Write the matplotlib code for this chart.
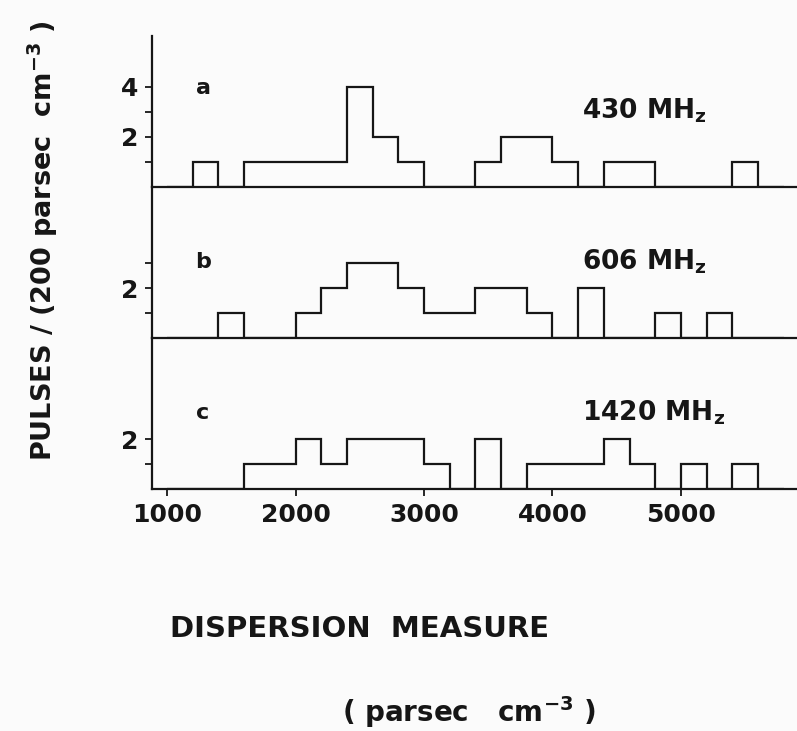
import numpy as np
import matplotlib.pyplot as plt

INK = "#161616"
PAPER = "#fbfbfb"

# bin edges (DM, parsec cm^-3) and pulse counts per 200-unit bin
edges = [1000, 1200, 1400, 1600, 1800, 2000, 2200, 2400, 2600, 2800, 3000, 3200,
         3400, 3600, 3800, 4000, 4200, 4400, 4600, 4800, 5000, 5200, 5400, 5600, 5800]
counts_430 = [0, 1, 0, 1, 1, 1, 1, 4, 2, 1, 0, 0, 1, 2, 2, 1, 0, 1, 1, 0, 0, 0, 1, 0]
counts_606 = [0, 0, 1, 0, 0, 1, 2, 3, 3, 2, 1, 1, 2, 2, 1, 0, 2, 0, 0, 1, 0, 1, 0, 0]
counts_1420 = [0, 0, 0, 1, 1, 2, 1, 2, 2, 2, 1, 0, 2, 0, 1, 1, 1, 2, 1, 0, 1, 0, 1, 0]
letters = ["a", "b", "c"]
freqs = [r"430 MH$_{\mathbf{z}}$", r"606 MH$_{\mathbf{z}}$", r"1420 MH$_{\mathbf{z}}$"]
xticks = [1000, 2000, 3000, 4000, 5000]

W, H = 797, 731
fig = plt.figure(figsize=(W / 100, H / 100), dpi=100)
fig.patch.set_facecolor(PAPER)

# layout: (top px, bottom px, major yticks, minor yticks, letter y)
layout = [(36, 187, [2, 4], [1, 3], 3.96),
          (187, 338, [2], [1, 3], 3.04),
          (338, 489, [2], [1], 3.04)]
series = [counts_430, counts_606, counts_1420]

left = 152
for i, (top, bot, major, minor, ly) in enumerate(layout):
    ax = fig.add_axes([left / W, 1 - bot / H, 1 - left / W, (bot - top) / H])
    ax.set_facecolor("none")
    ax.stairs(series[i], edges, baseline=0, color=INK, linewidth=1.6)
    ax.set_xlim(883, 5903)
    ax.set_ylim(0, (bot - top) / 25)
    for s in ("top", "right"):
        ax.spines[s].set_visible(False)
    for s in ("left", "bottom"):
        ax.spines[s].set_linewidth(1.6)
        ax.spines[s].set_color(INK)
    ax.set_yticks(major)
    ax.set_yticks(minor, minor=True)
    ax.set_yticklabels([str(v) for v in major], fontsize=18, fontweight="bold", color=INK)
    ax.tick_params(axis="y", which="both", direction="out", length=5, width=1.3,
                   color=INK, pad=5)
    if i < 2:
        ax.set_xticks([])
    else:
        ax.set_xticks(xticks)
        ax.set_xticklabels([str(v) for v in xticks], fontsize=18, fontweight="bold",
                           color=INK)
        ax.tick_params(axis="x", direction="out", length=5, width=1.3, color=INK, pad=5)
    ax.text(1280, ly, letters[i], ha="center", va="center", fontsize=16,
            fontweight="bold", color=INK)
    ax.text(4230, 2.75, freqs[i], ha="left", va="baseline", fontsize=19,
            fontweight="bold", color=INK)

fig.text(43 / W, 1 - 241 / H, r"PULSES / (200 parsec  cm$^{\mathbf{-3}}$ )",
         rotation=90, ha="center", va="center", fontsize=19.5, fontweight="bold",
         color=INK)
fig.text(360 / W, 1 - 629 / H, "DISPERSION  MEASURE", ha="center", va="center",
         fontsize=21, fontweight="bold", color=INK)
fig.text(469 / W, 1 - 712 / H, r"( parsec   cm$^{\mathbf{-3}}$ )", ha="center",
         va="center", fontsize=20, fontweight="bold", color=INK)

fig.savefig("out.png", dpi=100, facecolor=PAPER)
